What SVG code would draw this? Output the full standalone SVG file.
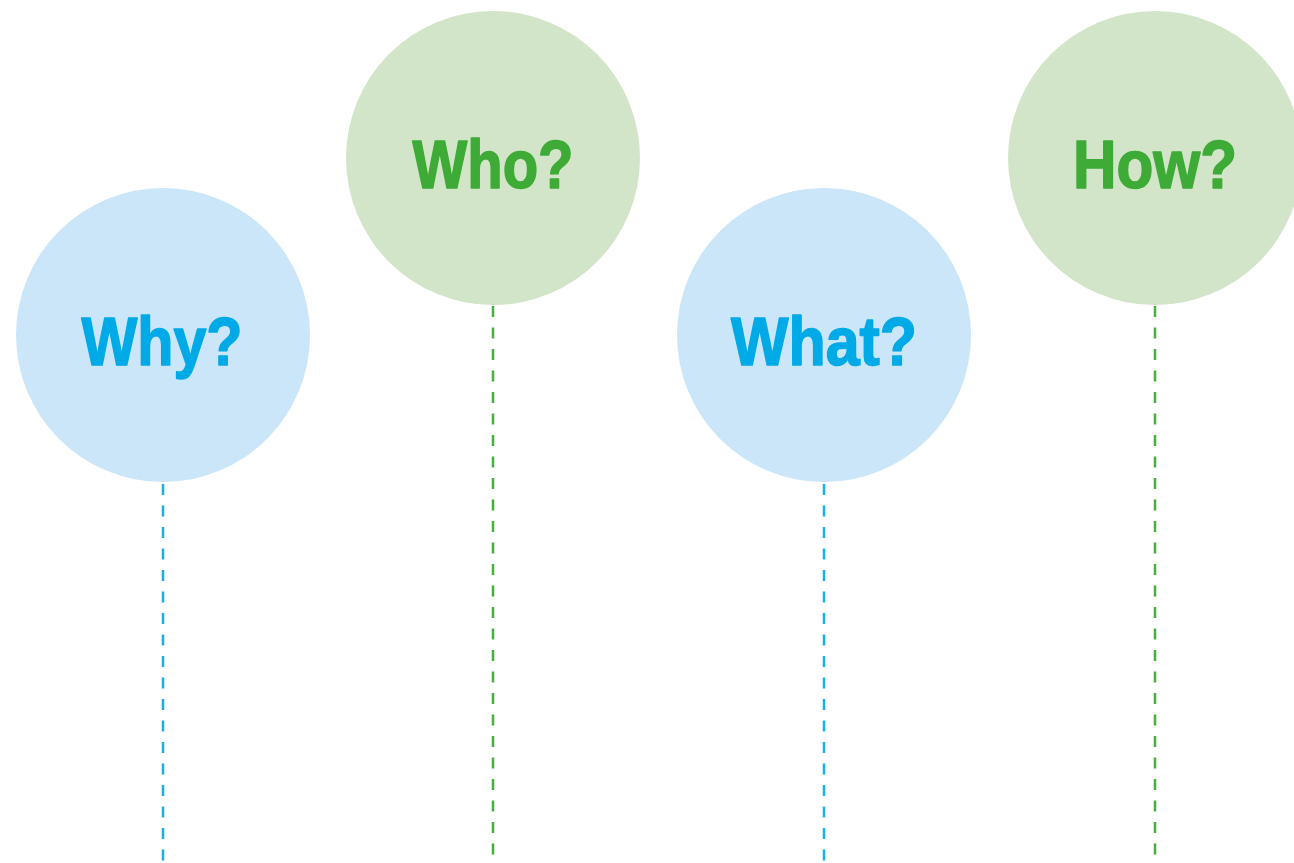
<svg xmlns="http://www.w3.org/2000/svg" width="1294" height="863" viewBox="0 0 1294 863">
<style>
.bc{fill:#cbe6f8}
.gc{fill:#d3e5c8}
.t{font-family:"Liberation Sans",Arial,sans-serif;font-weight:bold;font-size:68px;text-anchor:middle;stroke-width:1.6;stroke-linejoin:round}
.bt{fill:#00aae7;stroke:#00aae7}
.gt{fill:#3dab36;stroke:#3dab36}
.d{stroke-width:2.5;stroke-dasharray:11 10.5;fill:none}
.bd{stroke:#1aaee6}
.gd{stroke:#45b03a}
</style>
<rect width="1294" height="863" fill="#fff"/>
<g id="connectors">
<line class="d bd" x1="163" y1="484" x2="163" y2="863"/>
<line class="d gd" x1="493" y1="306" x2="493" y2="863"/>
<line class="d bd" x1="824" y1="484" x2="824" y2="863"/>
<line class="d gd" x1="1155" y1="306" x2="1155" y2="863"/>
</g>
<g id="why"><circle class="bc" cx="163" cy="335" r="147"/><text class="t bt" x="162" y="365" textLength="161" lengthAdjust="spacingAndGlyphs">Why?</text></g>
<g id="who"><circle class="gc" cx="493" cy="158" r="147"/><text class="t gt" x="493" y="188" textLength="161" lengthAdjust="spacingAndGlyphs">Who?</text></g>
<g id="what"><circle class="bc" cx="824" cy="335" r="147"/><text class="t bt" x="824" y="365" textLength="186" lengthAdjust="spacingAndGlyphs">What?</text></g>
<g id="how"><circle class="gc" cx="1155" cy="158" r="147"/><text class="t gt" x="1155" y="188" textLength="164" lengthAdjust="spacingAndGlyphs">How?</text></g>
</svg>
